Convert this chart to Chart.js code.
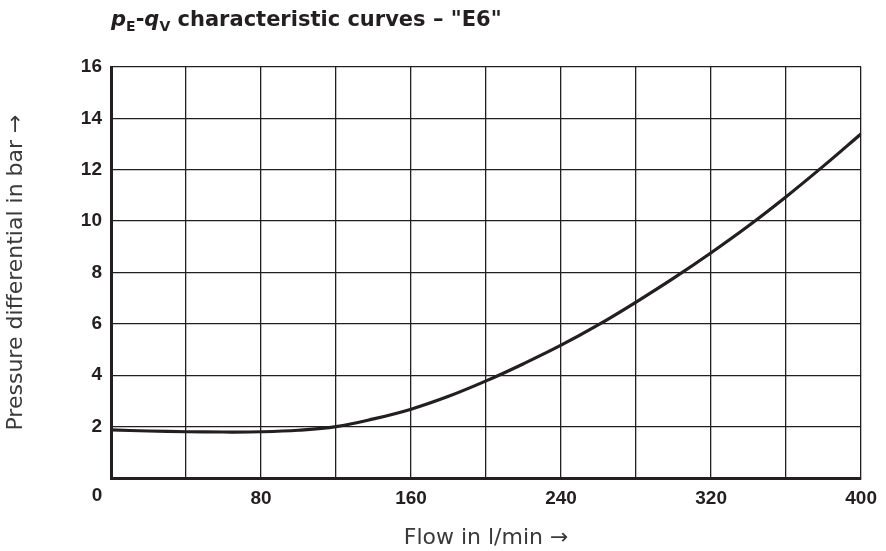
<!DOCTYPE html>
<html>
<head>
<meta charset="utf-8">
<script src="https://cdn.jsdelivr.net/npm/chart.js@4.4.1/dist/chart.umd.min.js"></script>
<style>
  html, body { margin: 0; padding: 0; background: #fff; }
  #wrap { position: relative; width: 886px; height: 551px; }
  #title {
    position: absolute; left: 111px; top: 7px;
    font-family: "DejaVu Sans", "Noto Sans", sans-serif;
    font-weight: bold; font-size: 21px; color: #231f20; white-space: nowrap;
  }
  #title sub { font-size: 14px; vertical-align: -5px; font-style: normal; }
</style>
</head>
<body>
<div id="wrap">
  <div id="title"><i>p</i><sub>E</sub>-<i>q</i><sub>V</sub> characteristic curves – "E6"</div>
  <canvas id="myChart" width="886" height="551"></canvas>
</div>
<script>
// flow (l/min) and pressure differential (bar)
const flow = [0, 20, 40, 60, 80, 100, 120, 140, 160, 180, 200, 220, 240, 260, 280, 300, 320, 340, 360, 380, 400];
const pressure = [1.87, 1.83, 1.80, 1.79, 1.80, 1.86, 2.00, 2.30, 2.68, 3.18, 3.78, 4.45, 5.17, 5.97, 6.85, 7.78, 8.77, 9.82, 10.95, 12.15, 13.40];

// labelled ticks
const xTickLabels = [80, 160, 240, 320, 400];
const yTickLabels = [2, 4, 6, 8, 10, 12, 14, 16];

const ink = '#231f20';
const tickFont = { family: '"Liberation Sans", Arial, sans-serif', size: 19, weight: 'bold' };
const titleFont = { family: '"DejaVu Sans", "Noto Sans", sans-serif', size: 22, weight: 'normal' };

// the shared "0" in the lower-left corner
const cornerZero = {
  id: 'cornerZero',
  afterDraw(chart) {
    const ctx = chart.ctx;
    const area = chart.chartArea;
    ctx.save();
    ctx.font = 'bold 19px "Liberation Sans", Arial, sans-serif';
    ctx.fillStyle = ink;
    ctx.textAlign = 'center';
    ctx.textBaseline = 'middle';
    ctx.fillText('0', area.left - 14, area.bottom + 18);
    ctx.restore();
  }
};

var ctx = document.getElementById('myChart').getContext('2d');

var myChart = new Chart(ctx, {
  type: 'line',
  data: {
    datasets: [{
      data: flow.map((x, i) => ({ x: x, y: pressure[i] })),
      borderColor: ink,
      borderWidth: 3.2,
      pointRadius: 0,
      tension: 0.4,
      fill: false
    }]
  },
  options: {
    responsive: false,
    animation: false,
    layout: { padding: { top: 67, right: 18, left: 0, bottom: 0 } },
    plugins: {
      legend: { display: false },
      tooltip: { enabled: false }
    },
    scales: {
      x: {
        type: 'linear',
        min: 0,
        max: 400,
        afterFit: function(scale) { scale.height = 73; },
        border: { display: true, color: ink, width: 3 },
        grid: { color: ink, lineWidth: 1.3, drawTicks: false },
        ticks: {
          stepSize: 40,
          padding: 9,
          color: ink,
          font: tickFont,
          maxRotation: 0,
          autoSkip: false,
          callback: v => xTickLabels.includes(v) ? String(v) : ''
        },
        title: {
          display: true,
          text: 'Flow in l/min →',
          color: '#3a3a3a',
          font: titleFont,
          padding: { top: 0, bottom: 0 }
        }
      },
      y: {
        min: 0,
        max: 16,
        afterFit: function(scale) { scale.width = 111; },
        border: { display: true, color: ink, width: 3 },
        grid: { color: ink, lineWidth: 1.3, drawTicks: false },
        ticks: {
          stepSize: 2,
          padding: 9,
          color: ink,
          font: tickFont,
          autoSkip: false,
          callback: v => yTickLabels.includes(v) ? String(v) : ''
        },
        title: {
          display: true,
          text: 'Pressure differential in bar →',
          color: '#3a3a3a',
          font: titleFont,
          padding: { top: 3, bottom: 0 }
        }
      }
    }
  },
  plugins: [cornerZero]
});
</script>
</body>
</html>
